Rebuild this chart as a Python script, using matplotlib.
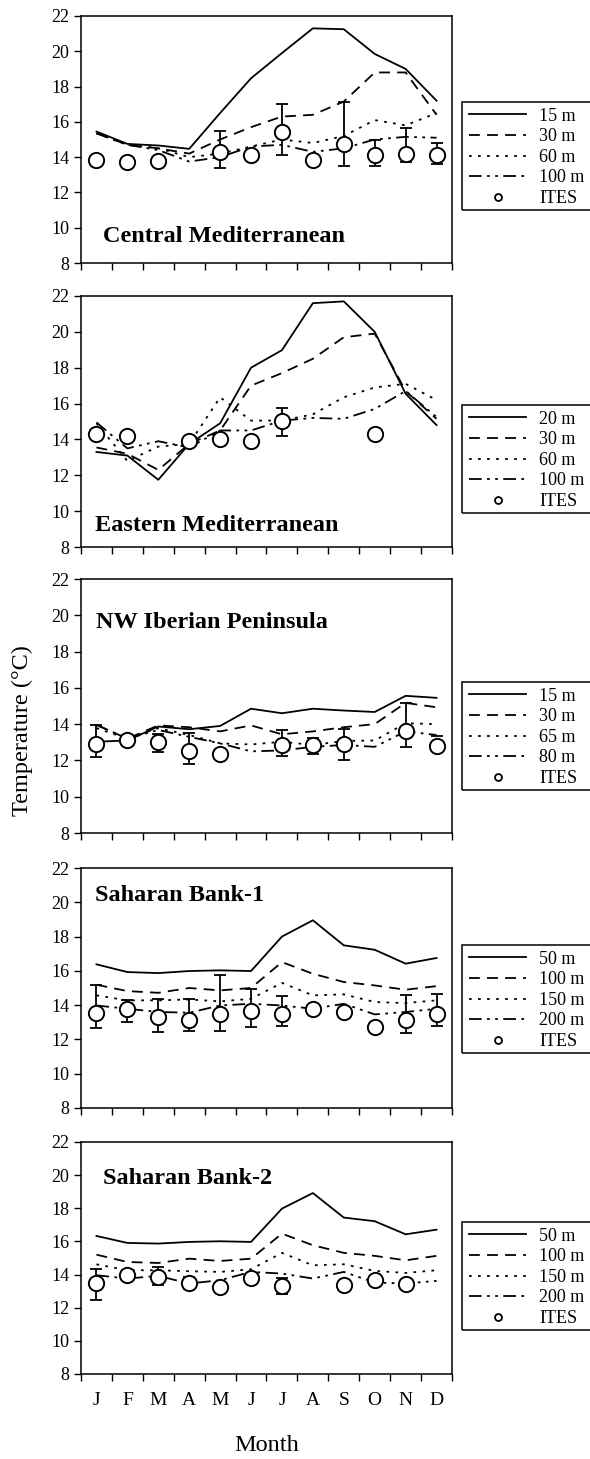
import numpy as np
import matplotlib.pyplot as plt
from matplotlib.lines import Line2D
from matplotlib.patches import Rectangle

plt.rcParams['font.family'] = ['Liberation Serif', 'DejaVu Serif']

months = ['J', 'F', 'M', 'A', 'M', 'J', 'J', 'A', 'S', 'O', 'N', 'D']
nan = np.nan

# Central Mediterranean
cm_title = 'Central Mediterranean'
cm_depths = ['15 m', '30 m', '60 m', '100 m']
cm_d1 = [15.45, 14.75, 14.66, 14.47, 16.5, 18.47, 19.9, 21.3, 21.25, 19.85, 19.0, 17.2]
cm_d2 = [15.36, 14.7, 14.5, 14.2, 15.0, 15.7, 16.3, 16.4, 17.15, 18.8, 18.8, 16.4]
cm_d3 = [15.35, 14.7, 14.5, 14.0, 14.2, 14.6, 15.0, 14.8, 15.2, 16.1, 15.8, 16.5]
cm_d4 = [15.35, 14.7, 14.4, 13.75, 14.0, 14.6, 14.7, 14.3, 14.5, 15.0, 15.15, 15.1]
cm_ites = [13.85, 13.7, 13.77, nan, 14.3, 14.1, 15.45, 13.85, 14.75, 14.1, 14.2, 14.1]
cm_lo = [nan, nan, nan, nan, 13.4, nan, 14.1, nan, 13.5, 13.5, 13.7, 13.6]
cm_hi = [nan, nan, nan, nan, 15.5, nan, 17.0, nan, 17.15, 15.0, 15.65, 14.8]

# Eastern Mediterranean
em_title = 'Eastern Mediterranean'
em_depths = ['20 m', '30 m', '60 m', '100 m']
em_d1 = [13.3, 13.1, 11.75, 13.75, 14.9, 18.0, 18.98, 21.6, 21.7, 20.0, 16.55, 14.8]
em_d2 = [13.55, 13.2, 12.3, 13.75, 14.5, 17.0, 17.7, 18.5, 19.7, 19.9, 16.7, 15.15]
em_d3 = [14.9, 12.8, 13.6, 13.75, 16.35, 15.05, 15.05, 15.4, 16.35, 16.9, 17.1, 16.2]
em_d4 = [14.95, 13.5, 13.9, 13.55, 14.5, 14.5, 15.05, 15.2, 15.15, 15.7, 16.7, 15.25]
em_ites = [14.3, 14.2, nan, 13.9, 14.0, 13.9, 15.05, nan, nan, 14.3, nan, nan]
em_lo = [nan, nan, nan, nan, nan, nan, 14.2, nan, nan, nan, nan, nan]
em_hi = [nan, nan, nan, nan, nan, nan, 15.75, nan, nan, nan, nan, nan]

# NW Iberian Peninsula
ib_title = 'NW Iberian Peninsula'
ib_depths = ['15 m', '30 m', '65 m', '80 m']
ib_d1 = [13.03, 13.1, 13.87, 13.72, 13.9, 14.85, 14.6, 14.85, 14.75, 14.67, 15.56, 15.45]
ib_d2 = [13.96, 13.2, 13.93, 13.83, 13.6, 13.93, 13.44, 13.6, 13.83, 14.0, 15.17, 14.93]
ib_d3 = [13.78, 13.2, 13.78, 13.4, 12.94, 12.88, 13.03, 12.85, 13.07, 13.1, 14.05, 14.0]
ib_d4 = [13.96, 13.2, 13.68, 13.3, 12.94, 12.5, 12.55, 12.75, 12.85, 12.75, 13.6, 13.4]
ib_ites = [12.88, 13.13, 13.0, 12.5, 12.38, nan, 12.85, 12.85, 12.88, nan, 13.6, 12.8]
ib_lo = [12.2, nan, 12.44, 11.8, nan, nan, 12.25, 12.33, 12.0, nan, 12.75, nan]
ib_hi = [13.96, nan, 13.44, 13.5, nan, nan, 13.65, 13.26, 13.74, nan, 15.17, 13.35]

# Saharan Bank-1
s1_title = 'Saharan Bank-1'
s1_depths = ['50 m', '100 m', '150 m', '200 m']
s1_d1 = [16.38, 15.93, 15.87, 15.99, 16.03, 15.99, 18.0, 18.95, 17.49, 17.23, 16.42, 16.75]
s1_d2 = [15.19, 14.82, 14.72, 15.0, 14.86, 15.0, 16.51, 15.83, 15.35, 15.15, 14.9, 15.11]
s1_d3 = [14.57, 14.28, 14.28, 14.33, 14.22, 14.37, 15.3, 14.57, 14.63, 14.18, 14.12, 14.28]
s1_d4 = [13.98, 13.79, 13.6, 13.56, 13.98, 14.08, 13.98, 13.79, 14.08, 13.46, 13.6, 13.79]
s1_ites = [13.56, 13.79, 13.3, 13.15, 13.5, 13.65, 13.5, 13.79, 13.6, 12.72, 13.15, 13.46]
s1_lo = [12.68, 13.01, 12.43, 12.49, 12.47, 12.72, 12.78, nan, nan, nan, 12.39, 12.76]
s1_hi = [15.19, 14.28, 14.33, 14.37, 15.74, 14.96, 14.51, nan, nan, nan, 14.57, 14.63]

# Saharan Bank-2
s2_title = 'Saharan Bank-2'
s2_depths = ['50 m', '100 m', '150 m', '200 m']
s2_d1 = [16.33, 15.91, 15.87, 15.97, 16.01, 15.97, 17.98, 18.92, 17.44, 17.22, 16.43, 16.71]
s2_d2 = [15.2, 14.76, 14.7, 14.96, 14.82, 14.96, 16.47, 15.77, 15.31, 15.13, 14.86, 15.13]
s2_d3 = [14.62, 14.26, 14.26, 14.2, 14.16, 14.32, 15.31, 14.56, 14.62, 14.22, 14.1, 14.26]
s2_d4 = [13.96, 13.76, 13.92, 13.46, 13.66, 14.16, 14.06, 13.76, 14.16, 13.52, 13.46, 13.62]
s2_ites = [13.5, 14.0, 13.85, 13.5, 13.22, 13.82, 13.3, nan, 13.36, 13.7, 13.46, nan]
s2_lo = [12.45, 13.75, 13.36, 13.15, 12.95, nan, 12.8, nan, nan, nan, nan, nan]
s2_hi = [14.36, 14.25, 14.46, 13.85, 13.5, nan, 13.8, nan, nan, nan, nan, nan]

panels = [
    (cm_title, cm_depths, [cm_d1, cm_d2, cm_d3, cm_d4], cm_ites, cm_lo, cm_hi),
    (em_title, em_depths, [em_d1, em_d2, em_d3, em_d4], em_ites, em_lo, em_hi),
    (ib_title, ib_depths, [ib_d1, ib_d2, ib_d3, ib_d4], ib_ites, ib_lo, ib_hi),
    (s1_title, s1_depths, [s1_d1, s1_d2, s1_d3, s1_d4], s1_ites, s1_lo, s1_hi),
    (s2_title, s2_depths, [s2_d1, s2_d2, s2_d3, s2_d4], s2_ites, s2_lo, s2_hi),
]

# pixel boxes (top, bottom) of each panel and legend tops
W, H = 590, 1459
boxes = [(16, 263), (296, 547), (579, 833), (868, 1108), (1142, 1374)]
leg_tops = [102, 405, 682, 945, 1222]
leg_h = 108
title_pos = [(1.21, 9.2), (0.95, 8.9), (0.98, 19.3), (0.95, 20.05), (1.21, 19.45)]

styles = ['-', (0, (6, 4)), (0, (1.5, 3.5)), (0, (7, 3, 1.5, 3, 1.5, 3))]

fig = plt.figure(figsize=(W / 100, H / 100), dpi=100)
x = np.arange(1, 13)

for i, (title, depths, series, ites, lo, hi) in enumerate(panels):
    top, bot = boxes[i]
    ax = fig.add_axes([81 / W, 1 - bot / H, (452 - 81) / W, (bot - top) / H])
    handles = []
    for s, ls, lab in zip(series, styles, depths):
        ax.plot(x, s, color='black', lw=1.3, linestyle=ls, label=lab)
        handles.append(Line2D([], [], color='black', lw=1.3, linestyle=ls))
    ites = np.array(ites)
    lo = np.array(lo)
    hi = np.array(hi)
    ax.errorbar(x, ites, yerr=[ites - lo, hi - ites], fmt='none', ecolor='black',
                elinewidth=1.3, capsize=4.5, capthick=1.3, zorder=4)
    ax.plot(x, ites, 'o', ms=11, mfc='white', mec='black', mew=1.4, zorder=5)
    handles.append(Line2D([], [], ls='none', marker='o', ms=5, mfc='white',
                          mec='black', mew=1.3))
    labels = list(depths) + ['ITES']

    ax.set_xlim(0.5, 12.5)
    ax.set_ylim(8, 22)
    ax.set_yticks(range(8, 23, 2))
    ax.set_xticks(np.arange(0.5, 13, 1))
    ax.set_xticklabels([])
    ax.tick_params(axis='both', direction='out', length=5, width=1, labelsize=13)
    if i == len(panels) - 1:
        ax.set_xticks(x, minor=True)
        ax.set_xticklabels(months, minor=True)
        ax.tick_params(axis='x', which='minor', length=0, pad=13, labelsize=14)
        ax.set_xlabel('Month', fontsize=17.5, labelpad=19)
    for sp in ax.spines.values():
        sp.set_linewidth(1.1)

    tx, ty = title_pos[i]
    ax.text(tx, ty, title, fontsize=17.5, fontweight='bold', va='baseline', ha='left')

    # legend box runs off the right edge of the page, as in the original
    fig.patches.append(Rectangle((462 / W, 1 - (leg_tops[i] + leg_h) / H),
                                 200 / W, leg_h / H, transform=fig.transFigure,
                                 fill=False, edgecolor='black', lw=1.1))
    ax.legend(handles, labels, loc='upper left',
              bbox_to_anchor=(465 / W, 1 - (leg_tops[i] + 2) / H),
              bbox_transform=fig.transFigure, frameon=False,
              fontsize=13, handlelength=3.2, handletextpad=0.7,
              labelspacing=0.2, borderpad=0.2, borderaxespad=0)

fig.text(22 / W, 1 - 731 / H, 'Temperature (°C)', rotation=90, fontsize=17.5,
         ha='center', va='center')

fig.savefig('out.png', dpi=100)
